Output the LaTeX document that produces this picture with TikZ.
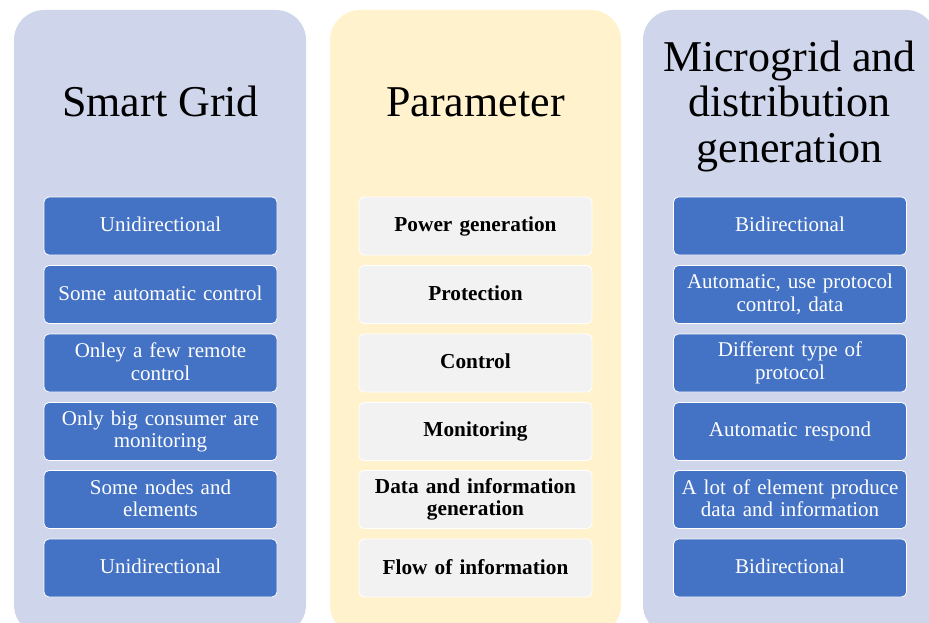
\documentclass[tikz,border=0pt]{standalone}
\usepackage{fontspec}
\setmainfont{Liberation Serif}
\definecolor{panelblue}{HTML}{CFD5EA}
\definecolor{panelyellow}{HTML}{FFF2CC}
\definecolor{boxblue}{HTML}{4472C4}
\definecolor{boxgray}{HTML}{F2F2F2}
\newcommand\boxstrut{\rule[-3pt]{0pt}{15pt}}
\begin{document}
\begin{tikzpicture}[x=1pt,y=-1pt,
  panel/.style={rounded corners=30pt},
  cbox/.style={draw=white, line width=0.8pt, rounded corners=5pt,
    minimum width=233pt, minimum height=58pt, text width=229pt,
    align=center, inner sep=0pt,
    execute at begin node=\boxstrut, execute at end node=\boxstrut},
  bluebox/.style={cbox, fill=boxblue, text=white, font=\fontsize{21}{22.5}\selectfont},
  graybox/.style={cbox, fill=boxgray, text=black, font=\fontsize{21.3}{22.5}\selectfont\bfseries},
  title/.style={align=center, inner sep=0pt, font=\fontsize{44}{45.5}\selectfont}]
\useasboundingbox (0,0) rectangle (929,623);
\clip (0,0) rectangle (929,623);
% panels
\fill[panelblue, panel] (14,10) rectangle (306,635);
\fill[panelyellow, panel] (330,10) rectangle (621,635);
\fill[panelblue, panel] (643,10) rectangle (936,635);
% titles
\node[title, anchor=base] (t1) at (160.5,117) {Smart Grid};
\node[title, anchor=base] (t2) at (475.5,117) {Parameter};
\node[title] (t3) at (789.5,106) {Microgrid and\\distribution\\generation};
% left column
\node[bluebox] (l1) at (160.5,226) {Unidirectional};
\node[bluebox] (l2) at (160.5,294.5) {Some automatic control};
\node[bluebox] (l3) at (160.5,363) {Onley a few remote\\control};
\node[bluebox] (l4) at (160.5,431.5) {Only big consumer are\\monitoring};
\node[bluebox] (l5) at (160.5,499.5) {Some nodes and\\elements};
\node[bluebox] (l6) at (160.5,568) {Unidirectional};
% middle column
\node[graybox] (m1) at (475.5,226) {Power generation};
\node[graybox] (m2) at (475.5,294.5) {Protection};
\node[graybox] (m3) at (475.5,363) {Control};
\node[graybox] (m4) at (475.5,431.5) {Monitoring};
\node[graybox] (m5) at (475.5,499.5) {Data and information\\generation};
\node[graybox] (m6) at (475.5,568) {Flow of information};
% right column
\node[bluebox] (r1) at (790,226) {Bidirectional};
\node[bluebox] (r2) at (790,294.5) {Automatic, use protocol\\control, data};
\node[bluebox] (r3) at (790,363) {Different type of\\protocol};
\node[bluebox] (r4) at (790,431.5) {Automatic respond};
\node[bluebox] (r5) at (790,499.5) {A lot of element produce\\data and information};
\node[bluebox] (r6) at (790,568) {Bidirectional};
\end{tikzpicture}
\end{document}
